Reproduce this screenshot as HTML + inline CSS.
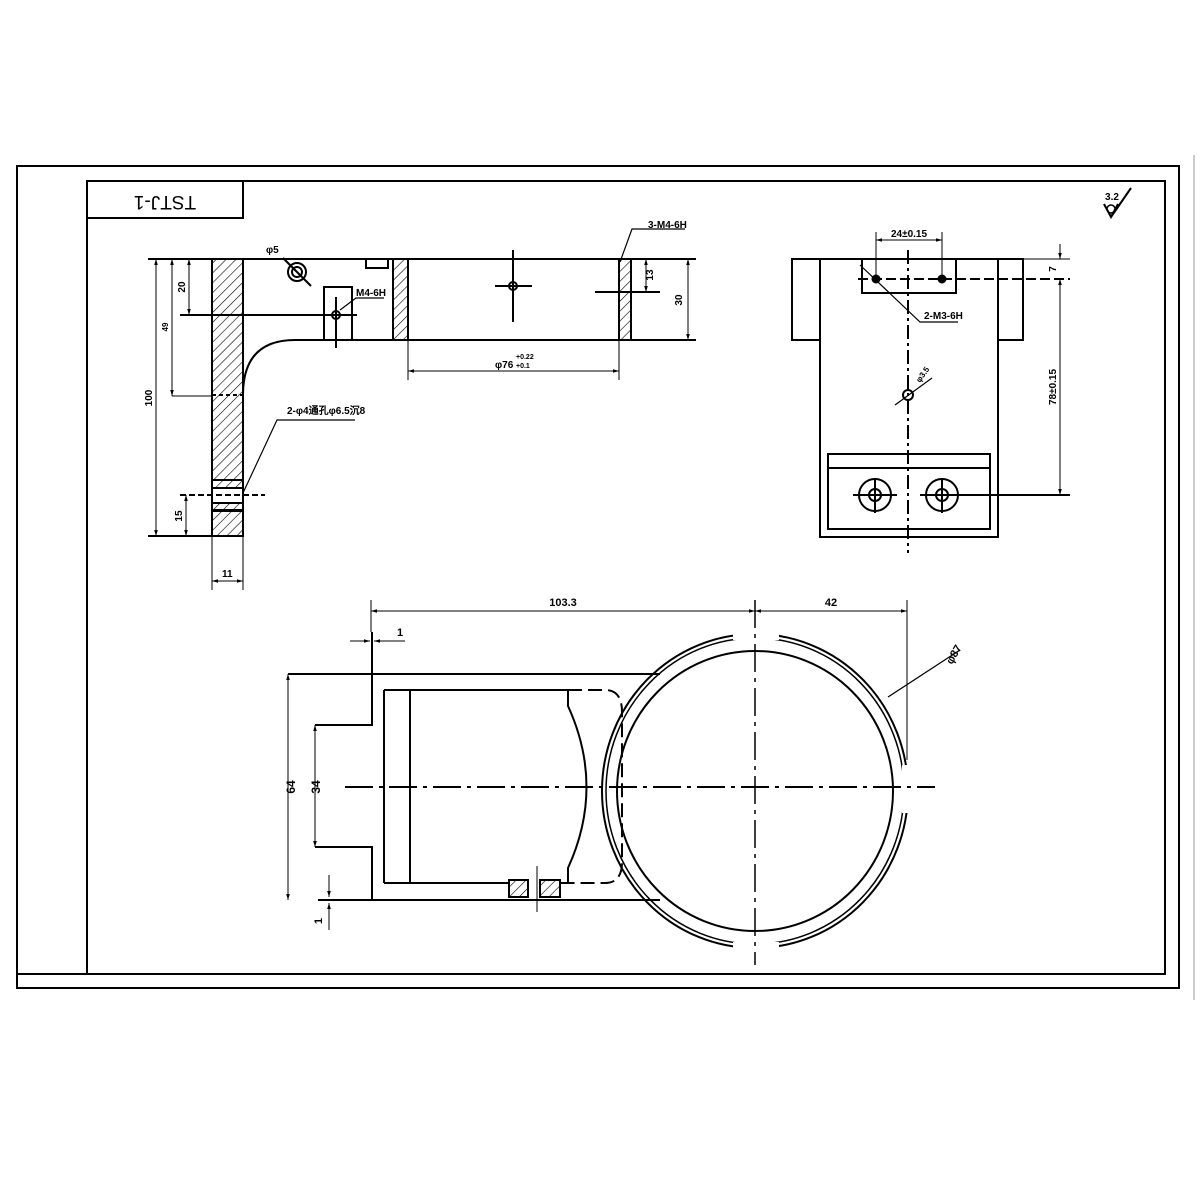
<!DOCTYPE html>
<html><head><meta charset="utf-8"><style>
html,body{margin:0;padding:0;background:#fff;}
svg{display:block;}
text{font-family:"Liberation Sans",sans-serif;font-weight:bold;fill:#000;}
</style></head><body>
<svg width="1200" height="1200" viewBox="0 0 1200 1200" xmlns="http://www.w3.org/2000/svg">
<defs>
<pattern id="h" width="7" height="7" patternUnits="userSpaceOnUse" patternTransform="rotate(45)">
<line x1="0" y1="0" x2="0" y2="7" stroke="#000" stroke-width="1.2"/></pattern>
<marker id="a" viewBox="0 0 10 10" refX="10" refY="5" markerWidth="8" markerHeight="6" orient="auto-start-reverse"><path d="M0,2 L10,5 L0,8 z" fill="#000"/></marker>
</defs>
<g fill="none" stroke="#000">
<rect x="17" y="166" width="1162" height="822" stroke-width="2"/>
<rect x="87" y="181" width="1078" height="793" stroke-width="2"/>
<line x1="17" y1="974" x2="1165" y2="974" stroke-width="2"/>
<line x1="1194" y1="155" x2="1194" y2="1000" stroke="#999" stroke-width="1"/>
<rect x="87" y="181" width="156" height="37" stroke-width="2"/>

<path d="M1104,204 L1111,217 L1118,204 M1111,217 L1131,188" stroke-width="2"/>
<circle cx="1111" cy="209" r="4" stroke-width="1.5"/>

<g stroke-width="2">
<line x1="148" y1="259" x2="696" y2="259"/>
<rect x="212" y="259" width="31" height="277" fill="url(#h)" stroke-width="2"/>
<path d="M243,395 Q243,340 295,340 L696,340" stroke-width="2"/>
<line x1="148" y1="536" x2="243" y2="536"/>
<rect x="212" y="480" width="31" height="30" fill="#fff"/>
<rect x="212" y="480" width="31" height="8" fill="url(#h)"/>
<rect x="212" y="503" width="31" height="8" fill="url(#h)"/>
<line x1="212" y1="395" x2="243" y2="395" stroke-dasharray="4,3"/>
<line x1="180" y1="495" x2="265" y2="495" stroke-dasharray="6,3"/>
<rect x="393" y="259" width="15" height="81" fill="url(#h)" stroke-width="2"/>
<rect x="619" y="259" width="12" height="81" fill="url(#h)" stroke-width="2"/>
<rect x="366" y="259" width="22" height="9"/>
<rect x="324" y="287" width="28" height="53"/>
<circle cx="336" cy="315" r="4"/>
<line x1="336" y1="297" x2="336" y2="348"/>
<line x1="180" y1="315" x2="357" y2="315"/>
<circle cx="297" cy="272" r="9"/><circle cx="297" cy="272" r="5"/>
<line x1="283" y1="258" x2="311" y2="286"/>
<circle cx="513" cy="286" r="4"/>
<line x1="495" y1="286" x2="532" y2="286"/><line x1="513" y1="250" x2="513" y2="322"/>
<line x1="595" y1="292" x2="660" y2="292"/>
<line x1="156" y1="259" x2="156" y2="536" marker-start="url(#a)" marker-end="url(#a)" stroke-width="1"/>
<line x1="172" y1="259" x2="172" y2="396" marker-start="url(#a)" marker-end="url(#a)" stroke-width="1"/>
<line x1="172" y1="396" x2="212" y2="396" stroke-width="1"/>
<line x1="189" y1="259" x2="189" y2="315" marker-start="url(#a)" marker-end="url(#a)" stroke-width="1"/>
<line x1="186" y1="495" x2="186" y2="536" marker-start="url(#a)" marker-end="url(#a)" stroke-width="1"/>
<line x1="212" y1="536" x2="212" y2="590" stroke-width="1"/><line x1="243" y1="536" x2="243" y2="590" stroke-width="1"/>
<line x1="212" y1="581" x2="243" y2="581" marker-start="url(#a)" marker-end="url(#a)" stroke-width="1"/>
<line x1="408" y1="340" x2="408" y2="380" stroke-width="1"/><line x1="619" y1="340" x2="619" y2="380" stroke-width="1"/>
<line x1="408" y1="371" x2="619" y2="371" marker-start="url(#a)" marker-end="url(#a)" stroke-width="1"/>
<line x1="646" y1="259" x2="646" y2="292" marker-start="url(#a)" marker-end="url(#a)" stroke-width="1"/>
<line x1="688" y1="259" x2="688" y2="340" marker-start="url(#a)" marker-end="url(#a)" stroke-width="1"/>
<path d="M620,262 L632,229 L685,229" stroke-width="1.2"/>
<path d="M243,493 L277,420 L355,420" stroke-width="1.2"/>
<path d="M340,310 L356,298 L384,298" stroke-width="1.2"/>
</g>

<g stroke-width="2">
<rect x="792" y="259" width="231" height="81" stroke-width="2"/>
<rect x="820" y="259" width="178" height="278" fill="#fff" stroke-width="2"/>
<line x1="792" y1="259" x2="1023" y2="259" stroke-width="2"/>
<rect x="862" y="259" width="94" height="34"/>
<line x1="858" y1="279" x2="1070" y2="279" stroke-dasharray="10,4"/>
<circle cx="876" cy="279" r="3.5" fill="#000"/><circle cx="942" cy="279" r="3.5" fill="#000"/>
<line x1="908" y1="250" x2="908" y2="553" stroke-dasharray="14,4,3,4"/>
<rect x="828" y="454" width="162" height="75"/>
<line x1="828" y1="468" x2="990" y2="468"/>
<circle cx="875" cy="495" r="16"/><circle cx="875" cy="495" r="6"/>
<circle cx="942" cy="495" r="16"/><circle cx="942" cy="495" r="6"/>
<line x1="853" y1="495" x2="897" y2="495"/><line x1="875" y1="478" x2="875" y2="513"/>
<line x1="920" y1="495" x2="1070" y2="495"/><line x1="942" y1="478" x2="942" y2="513"/>
<circle cx="908" cy="395" r="5"/>
<line x1="895" y1="405" x2="932" y2="378" stroke-width="1.2"/>
<line x1="876" y1="232" x2="876" y2="282" stroke-width="1"/><line x1="942" y1="232" x2="942" y2="282" stroke-width="1"/>
<line x1="876" y1="240" x2="942" y2="240" marker-start="url(#a)" marker-end="url(#a)" stroke-width="1"/>
<line x1="1023" y1="259" x2="1070" y2="259" stroke-width="1"/>
<line x1="1060" y1="244" x2="1060" y2="259" marker-end="url(#a)" stroke-width="1"/>
<line x1="1060" y1="279" x2="1060" y2="495" marker-start="url(#a)" marker-end="url(#a)" stroke-width="1"/>
<path d="M860,265 L920,322 L958,322" stroke-width="1.2"/>
</g>

<g stroke-width="2">
<ellipse cx="755" cy="791" rx="153" ry="157" stroke-width="2"/>
<ellipse cx="755" cy="791" rx="149" ry="153" stroke-width="1.5"/>
<ellipse cx="755" cy="791" rx="138" ry="140" stroke-width="2"/>
<rect x="733" y="628" width="46" height="12" fill="#fff" stroke="none"/>
<rect x="733" y="942" width="46" height="12" fill="#fff" stroke="none"/>
<rect x="902" y="765" width="12" height="48" fill="#fff" stroke="none"/>
<path d="M288,674 L660,674 M372,632 L372,725 L315,725 M315,847 L372,847 L372,900 M318,900 L660,900" stroke-width="2" fill="none"/>
<path d="M384,690 L568,690 M384,883 L510,883 M560,883 L568,883 M384,690 L384,883 M410,690 L410,883" stroke-width="2"/>
<path d="M568,690 L568,706 Q605,787 568,868 L568,883"/>
<path d="M568,690 L605,690 Q622,690 622,712 L622,862 Q622,883 605,883 L568,883" stroke-dasharray="14,6"/>
<rect x="509" y="880" width="19" height="17" fill="url(#h)"/>
<rect x="540" y="880" width="20" height="17" fill="url(#h)"/>
<line x1="537" y1="866" x2="537" y2="912" stroke-width="1"/>
<line x1="345" y1="787" x2="935" y2="787" stroke-dasharray="28,6,4,6"/>
<line x1="755" y1="600" x2="755" y2="965" stroke-dasharray="28,6,4,6" stroke-width="1.5"/>
<line x1="371" y1="600" x2="371" y2="632" stroke-width="1"/>
<line x1="907" y1="600" x2="907" y2="760" stroke-width="1"/>
<line x1="371" y1="611" x2="755" y2="611" marker-start="url(#a)" marker-end="url(#a)" stroke-width="1"/>
<line x1="755" y1="611" x2="907" y2="611" marker-start="url(#a)" marker-end="url(#a)" stroke-width="1"/>
<line x1="350" y1="641" x2="370" y2="641" marker-end="url(#a)" stroke-width="1"/>
<line x1="405" y1="641" x2="374" y2="641" marker-end="url(#a)" stroke-width="1"/>
<line x1="288" y1="674" x2="288" y2="900" marker-start="url(#a)" marker-end="url(#a)" stroke-width="1"/>
<line x1="315" y1="725" x2="315" y2="847" marker-start="url(#a)" marker-end="url(#a)" stroke-width="1"/>
<line x1="329" y1="875" x2="329" y2="897" marker-end="url(#a)" stroke-width="1"/>
<line x1="329" y1="930" x2="329" y2="903" marker-end="url(#a)" stroke-width="1"/>
<line x1="888" y1="697" x2="960" y2="650" stroke-width="1.2"/>
</g>
</g>

<text x="165" y="210" font-size="19" text-anchor="middle" transform="rotate(180 165 203)" style="font-weight:normal">TSTJ-1</text>
<text x="1112" y="200" font-size="10" text-anchor="middle">3.2</text>
<g font-size="10">
<text x="266" y="253">φ5</text>
<text x="356" y="296">M4-6H</text>
<text x="648" y="228">3-M4-6H</text>
<text x="287" y="414">2-φ4通孔φ6.5沉8</text>
<text x="495" y="368">φ76</text><text x="516" y="359" font-size="7">+0.22</text><text x="516" y="368" font-size="7">+0.1</text>
<text x="222" y="577">11</text>
<text transform="translate(152,398) rotate(-90)" text-anchor="middle">100</text>
<text transform="translate(168,327) rotate(-90)" text-anchor="middle" font-size="8">49</text>
<text transform="translate(185,287) rotate(-90)" text-anchor="middle">20</text>
<text transform="translate(182,516) rotate(-90)" text-anchor="middle">15</text>
<text transform="translate(653,275) rotate(-90)" text-anchor="middle">13</text>
<text transform="translate(682,300) rotate(-90)" text-anchor="middle">30</text>
<text x="909" y="237" text-anchor="middle">24±0.15</text>
<text x="924" y="319">2-M3-6H</text>
<text transform="translate(920,383) rotate(-55)" font-size="8">φ3.5</text>
<text transform="translate(1056,269) rotate(-90)" text-anchor="middle">7</text>
<text transform="translate(1056,387) rotate(-90)" text-anchor="middle">78±0.15</text>
<text x="563" y="606" text-anchor="middle" font-size="11">103.3</text>
<text x="831" y="606" text-anchor="middle" font-size="11">42</text>
<text x="397" y="636" font-size="11">1</text>
<text transform="translate(295,787) rotate(-90)" text-anchor="middle" font-size="12">64</text>
<text transform="translate(320,787) rotate(-90)" text-anchor="middle" font-size="12">34</text>
<text transform="translate(322,921) rotate(-90)" text-anchor="middle" font-size="11">1</text>
<text transform="translate(952,665) rotate(-60)" font-size="11">φ87</text>
</g>
</svg>
</body></html>
